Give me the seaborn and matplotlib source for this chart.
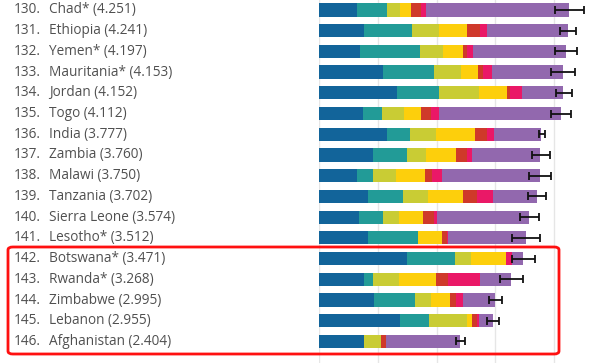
import numpy as np
import pandas as pd
import seaborn as sns
import matplotlib.pyplot as plt
import matplotlib.transforms as mtransforms
from matplotlib.patches import FancyBboxPatch

# =============================================================================
# Data
# =============================================================================

ranks = [130, 131, 132, 133, 134, 135, 136, 137, 138, 139, 140, 141, 142, 143, 144, 145, 146]
countries = ["Chad*", "Ethiopia", "Yemen*", "Mauritania*", "Jordan", "Togo", "India",
             "Zambia", "Malawi", "Tanzania", "Sierra Leone", "Lesotho*", "Botswana*",
             "Rwanda*", "Zimbabwe", "Lebanon", "Afghanistan"]
scores = [4.251, 4.241, 4.197, 4.153, 4.152, 4.112, 3.777, 3.760, 3.750, 3.702,
          3.574, 3.512, 3.471, 3.268, 2.995, 2.955, 2.404]

gdp = [0.652, 0.771, 0.692, 1.088, 1.327, 0.754, 1.151, 0.913, 0.641, 0.833,
       0.675, 0.833, 1.502, 0.771, 0.930, 1.383, 0.758]
social = [0.499, 0.811, 1.026, 0.867, 0.709, 0.312, 0.391, 0.590, 0.272, 0.590,
          0.414, 0.850, 0.805, 0.142, 0.709, 0.493, 0.000]
health = [0.232, 0.454, 0.397, 0.454, 0.686, 0.374, 0.454, 0.312, 0.391, 0.431,
          0.272, 0.000, 0.278, 0.448, 0.261, 0.635, 0.289]
freedom = [0.176, 0.488, 0.334, 0.295, 0.476, 0.300, 0.652, 0.516, 0.493, 0.595,
           0.402, 0.414, 0.590, 0.635, 0.334, 0.091, 0.000]
generosity = [0.181, 0.221, 0.074, 0.091, 0.045, 0.170, 0.210, 0.193, 0.119, 0.232,
              0.193, 0.085, 0.012, 0.198, 0.096, 0.090, 0.090]
corruption = [0.074, 0.113, 0.102, 0.147, 0.210, 0.125, 0.119, 0.079, 0.181, 0.278,
              0.057, 0.015, 0.100, 0.550, 0.119, 0.030, 0.005]
dystopia = [2.437, 1.383, 1.572, 1.211, 0.699, 2.077, 0.800, 1.157, 1.653, 0.743,
            1.561, 1.315, 0.184, 0.524, 0.546, 0.233, 1.262]

ci_low = [4.008, 4.104, 4.008, 3.946, 4.031, 3.946, 3.736, 3.617, 3.571, 3.560,
          3.418, 3.282, 3.282, 3.078, 2.885, 2.863, 2.336]
ci_high = [4.507, 4.371, 4.393, 4.354, 4.297, 4.280, 3.844, 3.923, 3.940, 3.855,
           3.741, 3.764, 3.679, 3.469, 3.118, 3.056, 2.483]

components = ["GDP", "Social", "Health", "Freedom", "Generosity", "Corruption", "Dystopia"]
colors = ["#12649a", "#229b97", "#c9cc34", "#fdcf0c", "#cf392a", "#ea1867", "#9268ae"]

# =============================================================================
# Build frame
# =============================================================================

df = pd.DataFrame({
    "Country": countries,
    "GDP": gdp,
    "Social": social,
    "Health": health,
    "Freedom": freedom,
    "Generosity": generosity,
    "Corruption": corruption,
    "Dystopia": dystopia,
})

cum = df[components].cumsum(axis=1)

# =============================================================================
# Plot
# =============================================================================

sns.set_style("white")
plt.rcParams["font.family"] = ["Open Sans", "DejaVu Sans"]

fig = plt.figure(figsize=(6, 3.63), dpi=100)
ax = fig.add_axes([319 / 600, 0, 1 - 319 / 600, 1])

# stacked bars: draw longest cumulative first, shorter ones on top
for comp, col in reversed(list(zip(components, colors))):
    sns.barplot(
        x=cum[comp],
        y=df["Country"],
        orient="h",
        color=col,
        saturation=1,
        width=0.64,
        linewidth=0,
        ax=ax,
        zorder=2,
    )

lo = np.array(ci_low)
hi = np.array(ci_high)
ax.errorbar(
    x=(lo + hi) / 2,
    y=np.arange(len(countries)),
    xerr=(hi - lo) / 2,
    fmt="none",
    ecolor="#111111",
    elinewidth=1.3,
    capsize=3.1,
    capthick=1.3,
    zorder=3,
)

ax.set_xlim(0, (600 - 319) / 58.8)
ax.set_ylim(17.04, -0.48)
ax.set_xticks([0, 1, 2, 3, 4])
ax.grid(axis="x", color="#e6e6e6", linewidth=1, zorder=0)
ax.set_axisbelow(True)
ax.set_xlabel("")
ax.set_ylabel("")
ax.set_xticklabels([])
ax.set_yticklabels([])
ax.tick_params(left=False, bottom=False)
for spine in ax.spines.values():
    spine.set_visible(False)

# row labels on the left
trans = mtransforms.blended_transform_factory(fig.transFigure, ax.transData)
for i, (rk, name, sc) in enumerate(zip(ranks, countries, scores)):
    fig.text(14 / 600, i, f"{rk}.", transform=trans, ha="left", va="center",
             fontsize=9.8, color="#505050")
    fig.text(49 / 600, i, f"{name} ({sc:.3f})", transform=trans, ha="left",
             va="center", fontsize=9.8, color="#505050")

# red highlight box
box = FancyBboxPatch(
    (8 / 600, 1 - 354 / 363),
    (559 - 8) / 600,
    (354 - 247) / 363,
    boxstyle="round,pad=0,rounding_size=0.008",
    transform=fig.transFigure,
    fill=False,
    edgecolor="#ff1010",
    linewidth=2.0,
    zorder=5,
)
fig.patches.append(box)

plt.savefig("out.png", dpi=100)
